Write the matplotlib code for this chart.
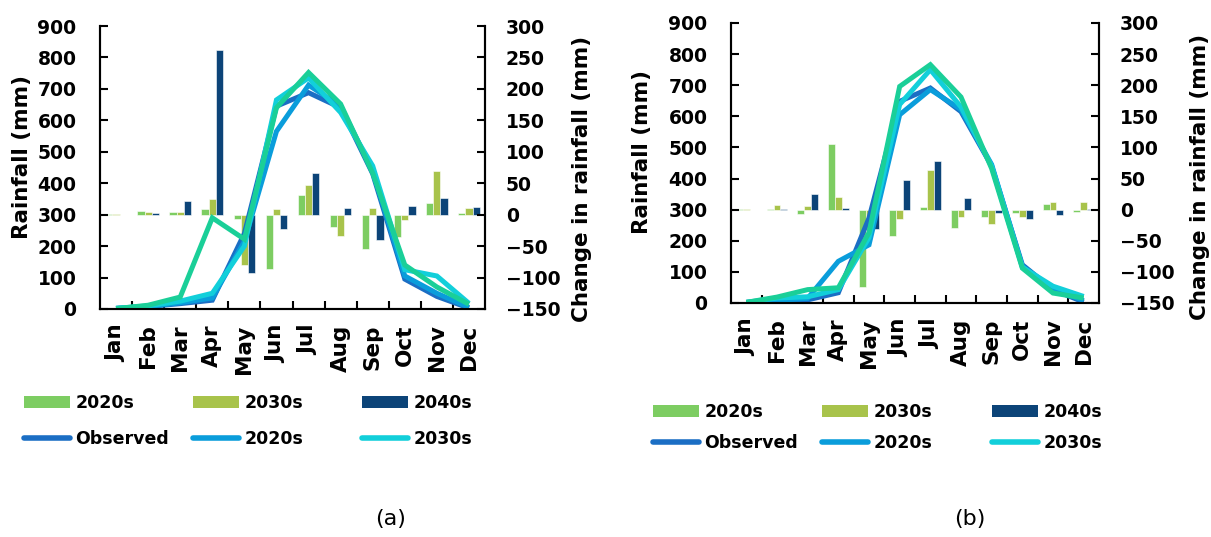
import matplotlib
matplotlib.use("Agg")
import matplotlib.pyplot as plt
import numpy as np
from matplotlib.patches import Patch
from matplotlib.lines import Line2D

plt.rcParams['font.family'] = ['DejaVu Sans']

months = ['Jan', 'Feb', 'Mar', 'Apr', 'May', 'Jun', 'Jul', 'Aug', 'Sep', 'Oct', 'Nov', 'Dec']

# Panel (a) - change in rainfall (bars, right axis)
a_chg_2020s = [0.5, 6, 4, 9, -7, -87, 32, -20, -55, -36, 18, 2]
a_chg_2030s = [0.3, 4, 5, 25, -80, 9, 47, -34, 10, -8, 70, 11]
a_chg_2040s = [0.2, 2, 21, 262, -93, -22, 66, 10, -41, 13, 27, 12]
# Panel (a) - rainfall (lines, left axis)
a_obs = [2, 8, 17, 28, 240, 645, 688, 640, 430, 95, 40, 3]
a_l2020s = [2, 8, 20, 35, 215, 565, 712, 645, 440, 105, 50, 5]
a_l2030s = [2, 10, 25, 50, 200, 665, 735, 625, 455, 125, 105, 18]
a_l2040s = [1, 12, 38, 290, 222, 640, 752, 652, 432, 140, 70, 15]

# Panel (b)
b_chg_2020s = [0.5, 1, -7, 106, -125, -43, 5, -30, -12, -5, 9, -4]
b_chg_2030s = [0.3, 8, 6, 20, -43, -15, 63, -11, -23, -12, 12, 13]
b_chg_2040s = [0.2, 1, 25, 2, -31, 48, 79, 19, -6, -15, -9, 1]
b_obs = [2, 5, 10, 33, 273, 648, 691, 615, 440, 123, 43, 3]
b_l2020s = [2, 8, 15, 134, 187, 605, 686, 622, 445, 118, 45, 8]
b_l2030s = [2, 16, 20, 43, 210, 638, 750, 630, 440, 115, 54, 21]
b_l2040s = [2, 19, 43, 49, 226, 696, 766, 662, 432, 112, 32, 16]

bar_colors = ['#7dcd62', '#a8c34b', '#0c4478']
line_colors = ['#1b6ec4', '#0a9ddb', '#12cfda', '#1acf98']
bar_labels = ['2020s', '2030s', '2040s']
line_labels = ['Observed', '2020s', '2030s']

FS_TICK = 13.5
FS_MONTH = 15.5
FS_LABEL = 15.5
FS_LEG = 12.5
W, H = 1211, 537
fig = plt.figure(figsize=(W / 100, H / 100), dpi=100)


def make_panel(rect, chg, lines, lcoords, rcoords):
    l, t, r, b = rect
    ax = fig.add_axes([l / W, 1 - b / H, (r - l) / W, (b - t) / H])
    ax2 = ax.twinx()
    ax.set_zorder(ax2.get_zorder() + 1)
    ax.patch.set_visible(False)
    x = np.arange(len(months))
    bw = 0.225
    for i, (vals, c) in enumerate(zip(chg, bar_colors)):
        ax2.bar(x + (i - 1) * bw, vals, bw, color=c, edgecolor='white', linewidth=0.4)
    for vals, c in zip(lines, line_colors):
        ax.plot(x, vals, color=c, lw=3.6, solid_joinstyle='miter', solid_capstyle='butt')
    ax.set_xlim(-0.5, 11.5)
    ax.set_ylim(0, 900)
    ax2.set_ylim(-150, 300)
    ax.set_yticks(np.arange(0, 901, 100))
    ax2.set_yticks(np.arange(-150, 301, 50))
    ax.set_xticks(np.arange(0.5, 11, 1))
    ax.set_xticklabels([])
    ax.set_xticks(x, minor=True)
    ax.set_xticklabels(months, minor=True, rotation=90, fontsize=FS_MONTH, fontweight='bold')
    ax.tick_params(axis='x', which='major', direction='in', length=6, width=1.5)
    ax.tick_params(axis='x', which='minor', length=0, pad=11)
    ax.tick_params(axis='y', direction='in', length=6, width=1.5, pad=17, labelsize=FS_TICK)
    ax2.tick_params(axis='y', direction='in', length=6, width=1.5, pad=15, labelsize=FS_TICK)
    for lab in ax.get_yticklabels() + ax2.get_yticklabels():
        lab.set_fontweight('bold')
    for a in (ax, ax2):
        a.spines['top'].set_visible(False)
        for s in ('left', 'right', 'bottom'):
            a.spines[s].set_linewidth(1.5)
    ax.set_ylabel('Rainfall (mm)', fontsize=FS_LABEL, fontweight='bold')
    ax2.set_ylabel('Change in rainfall (mm)', fontsize=FS_LABEL, fontweight='bold')
    ax.yaxis.set_label_coords(*lcoords)
    ax2.yaxis.set_label_coords(*rcoords)
    return ax, ax2


make_panel((100, 26, 485, 309),
           [a_chg_2020s, a_chg_2030s, a_chg_2040s],
           [a_obs, a_l2020s, a_l2030s, a_l2040s],
           (-0.177, 0.537), (1.226, 0.46))
make_panel((731, 23, 1099, 303),
           [b_chg_2020s, b_chg_2030s, b_chg_2040s],
           [b_obs, b_l2020s, b_l2030s, b_l2040s],
           (-0.215, 0.54), (1.247, 0.45))


def make_legend(xs, ytop, spacing):
    for j in range(3):
        hs = [Patch(facecolor=bar_colors[j]),
              Line2D([], [], color=line_colors[j], lw=4, solid_capstyle='round')]
        labs = [bar_labels[j], line_labels[j]]
        fig.legend(hs, labs, loc='upper left',
                   bbox_to_anchor=(xs[j] / W, 1 - ytop / H),
                   frameon=False, borderpad=0, borderaxespad=0,
                   handlelength=2.65, handleheight=0.75, handletextpad=0.3,
                   labelspacing=spacing, prop={'size': FS_LEG, 'weight': 'bold'})


make_legend([24, 193, 362], 394, 1.05)
make_legend([653, 822, 992], 403, 0.76)

fig.text(391 / W, 1 - 519 / H, '(a)', ha='center', va='center', fontsize=16)
fig.text(970 / W, 1 - 519 / H, '(b)', ha='center', va='center', fontsize=16)

fig.savefig('out.png', dpi=100)
